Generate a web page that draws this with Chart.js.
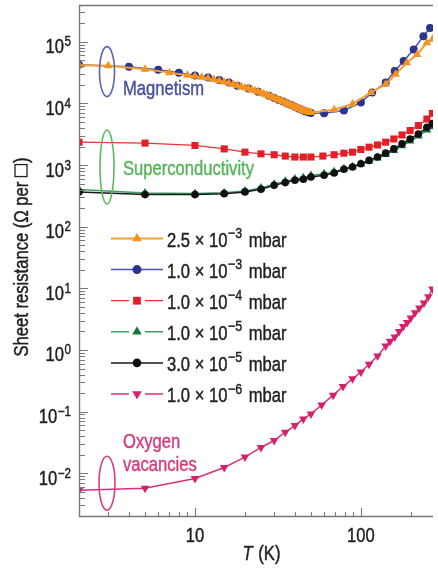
<!DOCTYPE html>
<html>
<head>
<meta charset="utf-8">
<script src="https://cdn.jsdelivr.net/npm/chart.js@4.4.1/dist/chart.umd.min.js"></script>
<style>
  html, body { margin: 0; padding: 0; background: #fff; }
  canvas { display: block; }
</style>
</head>
<body>
<canvas id="chart" width="438" height="572"></canvas>
<script>
// ===== Data (T in K, sheet resistance in ohm per square) =====

// 2.5e-3 mbar (orange triangles)
const temp25e3 = [2, 3, 5, 7, 9, 10, 11, 12, 13, 14, 15, 16, 17, 18, 19, 20, 21, 22, 23, 24, 25, 26, 27, 28, 29, 30,
  31, 32, 33, 34, 35, 36, 37, 38, 39, 40, 41, 42, 43, 44, 45, 46, 47, 48, 49, 50, 69, 89, 115, 141, 162, 189, 218, 250, 270];
const res25e3 = [41500, 41000, 35700, 31600, 28600, 27500, 26500, 25500, 24400, 23300, 22300, 21300, 20400, 19500, 18700,
  18000, 17300, 16600, 16000, 15400, 14800, 14200, 13700, 13200, 12700, 12200, 11800, 11400, 11000, 10600, 10200, 9900,
  9600, 9300, 9000, 8800, 8500, 8300, 8100, 7900, 7700, 7500, 7400, 7300, 7200, 7100, 7900, 9800, 15000, 20500, 29700,
  45800, 62400, 96400, 110000];

// 1.0e-3 mbar (blue circles)
const temp10e3 = [2, 4, 6, 8, 10, 12, 14, 16, 18, 21, 24, 28, 30, 32, 34, 36, 38, 40, 42, 44, 46, 48, 50, 60, 79, 100,
  117, 141, 160, 181, 208, 238, 261];
const res10e3 = [42500, 39500, 35300, 31600, 28300, 26300, 24100, 21800, 19300, 17500, 15400, 13300, 12300, 11400,
  10700, 10000, 9400, 8800, 8300, 7900, 7500, 7200, 7000, 6900, 7700, 10400, 15000, 21800, 33700, 48800, 75200, 123500, 168000];

// 1.0e-4 mbar (red squares)
const temp10e4 = [2, 5, 10, 15, 20, 25, 30, 35, 40, 45, 50, 59, 69, 79, 89, 100, 112, 126, 141, 158, 177, 198, 222, 250, 270];
const res10e4 = [2350, 2270, 2080, 1830, 1620, 1520, 1470, 1400, 1350, 1350, 1350, 1400, 1470, 1560, 1620, 1790, 1950,
  2120, 2350, 2650, 3080, 3630, 4370, 5580, 6900];

// 1.0e-5 mbar (green triangles)
const temp10e5 = [2, 5, 10, 15, 20, 25, 30, 35, 40, 45, 50, 60, 69, 79, 89, 100, 112, 126, 141, 158, 177, 198, 222, 250, 270];
const res10e5 = [400, 352, 345, 355, 380, 425, 490, 545, 595, 625, 675, 720, 780, 870, 940, 1040, 1160, 1300, 1480,
  1720, 2050, 2450, 2950, 3700, 4200];

// 3.0e-5 mbar (black circles)
const temp30e5 = [2, 5, 10, 15, 20, 25, 30, 35, 40, 45, 50, 60, 69, 79, 89, 100, 112, 126, 141, 158, 177, 198, 222, 250, 270];
const res30e5 = [367, 332, 332, 344, 367, 406, 471, 519, 567, 589, 640, 682, 743, 853, 930, 1050, 1190, 1350, 1560,
  1830, 2210, 2650, 3200, 4100, 4700];

// 1.0e-6 mbar (pink down triangles)
const temp10e6 = [2, 5, 10, 15, 20, 25, 30, 35, 40, 45, 50, 58, 68, 78, 89, 100, 112, 126, 141, 150, 160, 170, 180,
  190, 200, 212, 225, 240, 255, 270];
const res10e6 = [0.0053, 0.0057, 0.0082, 0.0124, 0.0183, 0.0262, 0.034, 0.0464, 0.0594, 0.0762, 0.0918, 0.128, 0.185,
  0.255, 0.34, 0.44, 0.587, 0.8, 1.16, 1.38, 1.62, 2.0, 2.4, 2.8, 3.3, 4.0, 4.8, 5.8, 7.3, 9.8];

// Legend text
const mantissas = ['2.5', '1.0', '1.0', '1.0', '3.0', '1.0'];
const exponents = [-3, -3, -4, -5, -5, -6];

// Axis labels
const xTickLabels = [10, 100];
const yTickExps = [-2, -1, 0, 1, 2, 3, 4, 5];

// ===== Style =====
const FONT = '"Liberation Sans", Arial, Helvetica, sans-serif';
const SX = 0.83; // condensed look
const INK = '#231f20';
const AXIS = '#777';

const styles = [
  { line: '#f5a033', point: '#f39220', shape: 'triangle', r: 5, rot: 0, gap: false, order: 0, w: 2 },
  { line: '#4a56ad', point: '#2b3590', shape: 'circle', r: 4, rot: 0, gap: false, order: 1, w: 1.5 },
  { line: '#e8333a', point: '#e31e26', shape: 'rect', r: 5, rot: 0, gap: true, order: 4, w: 1.3 },
  { line: '#3c9c64', point: '#127a3c', shape: 'triangle', r: 5, rot: 0, gap: true, order: 3, w: 1.5 },
  { line: '#1a1a1a', point: '#111', shape: 'circle', r: 3.8, rot: 0, gap: false, order: 2, w: 1.5 },
  { line: '#d9307a', point: '#d6206e', shape: 'triangle', r: 5, rot: 180, gap: true, order: 5, w: 1.5 }
];
const temps = [temp25e3, temp10e3, temp10e4, temp10e5, temp30e5, temp10e6];
const ress = [res25e3, res10e3, res10e4, res10e5, res30e5, res10e6];

// ===== Helpers =====
function drawText(ctx, str, x, y, size, color, align = 'left', italic = false) {
  ctx.save();
  ctx.font = (italic ? 'italic ' : '') + size + 'px ' + FONT;
  const w = ctx.measureText(str).width * SX;
  const x0 = align === 'right' ? x - w : align === 'center' ? x - w / 2 : x;
  ctx.translate(x0, y);
  ctx.scale(SX, 1);
  ctx.fillStyle = color;
  ctx.strokeStyle = color;
  ctx.lineWidth = 0.45;
  ctx.textAlign = 'left';
  ctx.textBaseline = 'alphabetic';
  ctx.fillText(str, 0, 0);
  ctx.strokeText(str, 0, 0); // a bit heavier, like the printed figure
  ctx.restore();
  return w;
}

function textWidth(ctx, str, size, italic = false) {
  ctx.save();
  ctx.font = (italic ? 'italic ' : '') + size + 'px ' + FONT;
  const w = ctx.measureText(str).width * SX;
  ctx.restore();
  return w;
}

function marker(ctx, shape, x, y, r, rot, color) {
  ctx.fillStyle = color;
  ctx.beginPath();
  if (shape === 'circle') {
    ctx.arc(x, y, r, 0, Math.PI * 2);
  } else if (shape === 'rect') {
    const s = r * Math.SQRT1_2;
    ctx.rect(x - s, y - s, 2 * s, 2 * s);
  } else {
    let a = rot * Math.PI / 180;
    ctx.moveTo(x + Math.sin(a) * r, y - Math.cos(a) * r);
    for (let k = 0; k < 2; k++) {
      a += Math.PI * 2 / 3;
      ctx.lineTo(x + Math.sin(a) * r, y - Math.cos(a) * r);
    }
    ctx.closePath();
  }
  ctx.fill();
}

function ellipse(ctx, cx, cy, rx, ry, color) {
  ctx.save();
  ctx.strokeStyle = color;
  ctx.lineWidth = 1.6;
  ctx.beginPath();
  ctx.ellipse(cx, cy, rx, ry, 0, 0, Math.PI * 2);
  ctx.stroke();
  ctx.restore();
}

// ===== Axes, legend and notes =====
const decorations = {
  id: 'decorations',
  afterDraw(chart) {
    const { ctx, chartArea: a, scales: { x, y } } = chart;
    ctx.save();

    // frame
    ctx.strokeStyle = AXIS;
    ctx.lineWidth = 1.4;
    ctx.beginPath();
    ctx.moveTo(a.left, a.top + 0.5);
    ctx.lineTo(a.right, a.top + 0.5);
    ctx.moveTo(a.left + 0.5, a.top);
    ctx.lineTo(a.left + 0.5, a.bottom - 0.5);
    ctx.lineTo(a.right, a.bottom - 0.5);
    ctx.stroke();

    // inward ticks
    ctx.lineWidth = 1.1;
    ctx.beginPath();
    for (let d = 1; d <= 100; d *= 10) {
      for (let m = 1; m <= 9; m++) {
        const v = d * m;
        if (v <= x.min || v > x.max) continue;
        const px = Math.round(x.getPixelForValue(v)) + 0.5;
        ctx.moveTo(px, a.bottom);
        ctx.lineTo(px, a.bottom - (m === 1 ? 9 : 5));
      }
    }
    for (let e = -3; e <= 5; e++) {
      for (let m = 1; m <= 9; m++) {
        const v = m * Math.pow(10, e);
        if (v <= y.min || v >= y.max) continue;
        const py = Math.round(y.getPixelForValue(v)) + 0.5;
        ctx.moveTo(a.left, py);
        ctx.lineTo(a.left + (m === 1 ? 9 : 6), py);
      }
    }
    ctx.stroke();

    // x tick labels
    xTickLabels.forEach(v => {
      drawText(ctx, String(v), x.getPixelForValue(v), a.bottom + 25, 20, INK, 'center');
    });

    // y tick labels: 10 with superscript exponent
    yTickExps.forEach(e => {
      const py = y.getPixelForValue(Math.pow(10, e));
      const sup = e < 0 ? '\u2212' + (-e) : String(e);
      const ws = textWidth(ctx, sup, 14);
      const right = 71;
      drawText(ctx, sup, right - ws, py + 4.5, 14, INK);
      drawText(ctx, '10', right - ws - 0.5, py + 11.5, 20, INK, 'right');
    });

    // x title
    const tw = textWidth(ctx, 'T', 20, true);
    const kw = textWidth(ctx, ' (K)', 20);
    const tx = (a.left + a.right) / 2 + 5 - (tw + kw) / 2;
    drawText(ctx, 'T', tx, 560, 20, INK, 'left', true);
    drawText(ctx, ' (K)', tx + tw + 1, 560, 20, INK);

    // y title (rotated), with a drawn square
    ctx.save();
    ctx.translate(27.5, 257);
    ctx.rotate(-Math.PI / 2);
    const p1 = 'Sheet resistance (\u03a9 per ';
    const w1 = textWidth(ctx, p1, 20);
    const sq = 12;
    const w2 = textWidth(ctx, ')', 20);
    let sx = -(w1 + sq + 2 + w2) / 2;
    drawText(ctx, p1, sx, 0, 20, INK);
    sx += w1;
    ctx.strokeStyle = INK;
    ctx.lineWidth = 1.3;
    ctx.strokeRect(sx + 0.5, -sq - 0.5, sq, sq);
    sx += sq + 2;
    drawText(ctx, ')', sx, 0, 20, INK);
    ctx.restore();

    // legend
    styles.forEach((s, i) => {
      const by = 246.5 + i * 31.1;
      const cy = by - 8;
      ctx.strokeStyle = s.line;
      ctx.lineWidth = s.w;
      ctx.beginPath();
      if (s.gap) {
        ctx.moveTo(111, cy); ctx.lineTo(129, cy);
        ctx.moveTo(145, cy); ctx.lineTo(163, cy);
      } else {
        ctx.moveTo(111, cy); ctx.lineTo(163, cy);
      }
      ctx.stroke();
      marker(ctx, s.shape, 137, cy, s.r + 0.5, s.rot, s.point);
      let lx = 167;
      lx += drawText(ctx, mantissas[i] + ' \u00d7 10', lx, by, 20, INK);
      lx += drawText(ctx, '\u2212' + (-exponents[i]), lx + 0.5, by - 8.5, 15, INK) + 0.5;
      drawText(ctx, ' mbar', lx + 2, by, 20, INK);
    });

    // notes
    const ex = x.getPixelForValue(2.95);
    ellipse(ctx, ex, y.getPixelForValue(32800), 7.5, 25, '#5a66ac');
    drawText(ctx, 'Magnetism', 123, 94.5, 20, '#46519c');
    ellipse(ctx, ex, y.getPixelForValue(930), 7, 37, '#5cb860');
    drawText(ctx, 'Superconductivity', 123, 175, 20, '#58b45a');
    ellipse(ctx, ex, y.getPixelForValue(0.0069), 8, 27, '#d8407f');
    drawText(ctx, 'Oxygen', 123, 448, 20, '#d63d7c');
    drawText(ctx, 'vacancies', 123, 470.5, 20, '#d63d7c');

    ctx.restore();
  }
};

// ===== Chart =====
const datasets = styles.map((s, i) => ({
  data: temps[i].map((t, k) => ({ x: t, y: ress[i][k] })),
  borderColor: s.line,
  borderWidth: s.w,
  pointStyle: s.shape,
  pointRadius: s.r,
  pointRotation: s.rot,
  pointBackgroundColor: s.point,
  pointBorderColor: s.point,
  pointBorderWidth: 0,
  tension: 0,
  order: s.order
}));

new Chart(document.getElementById('chart').getContext('2d'), {
  type: 'line',
  data: { datasets },
  options: {
    responsive: false,
    animation: false,
    devicePixelRatio: 1,
    layout: { padding: { left: 79, top: 2, right: 0, bottom: 55 } },
    plugins: { legend: { display: false }, tooltip: { enabled: false } },
    scales: {
      x: { type: 'logarithmic', min: 2, max: 272, display: false },
      y: { type: 'logarithmic', min: 0.001951, max: 395300, display: false }
    }
  },
  plugins: [decorations]
});
</script>
</body>
</html>
